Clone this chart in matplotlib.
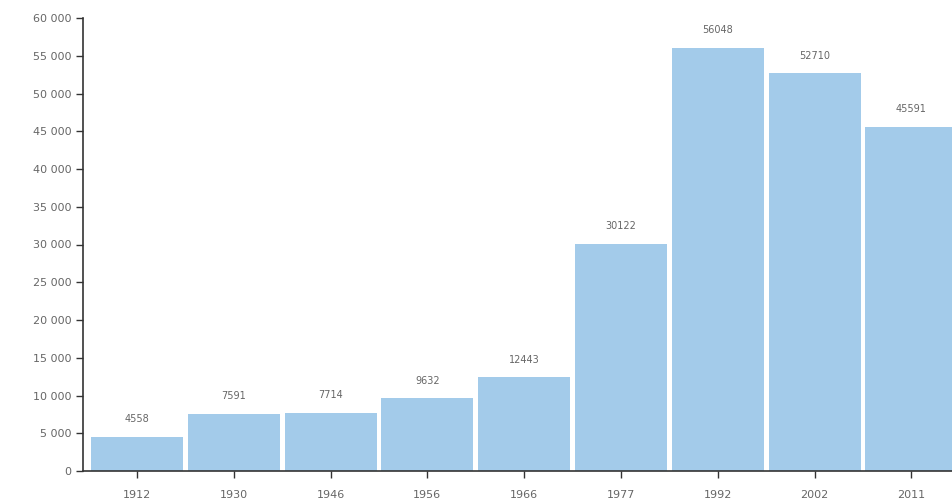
import numpy as np
import matplotlib.pyplot as plt
from matplotlib.ticker import FuncFormatter

# population by census year
years = ['1912', '1930', '1946', '1956', '1966', '1977', '1992', '2002', '2011']
population = [4558, 7591, 7714, 9632, 12443, 30122, 56048, 52710, 45591]

bar_color = '#a3cbea'
text_color = '#666666'

fig = plt.figure(figsize=(9.52, 4.99), dpi=100)
ax = fig.add_axes([83/952, 28/499, 1 - 83/952, 453/499])

x = np.arange(len(years))
bars = ax.bar(x, population, width=0.95, color=bar_color, zorder=2)

for xi, v in zip(x, population):
    ax.annotate(str(v), (xi, v), xytext=(0, 9), textcoords='offset points',
                ha='center', va='bottom', fontsize=7, color=text_color)

ax.set_xlim(-0.558, 8.42)
ax.set_ylim(0, 60000)
ax.set_yticks(np.arange(0, 60001, 5000))
ax.yaxis.set_major_formatter(FuncFormatter(lambda v, p: f'{int(v):,}'.replace(',', ' ')))
ax.set_xticks(x)
ax.set_xticklabels(years)

ax.tick_params(axis='both', colors='#333333', labelcolor=text_color, labelsize=8,
               length=5, width=1)
ax.tick_params(axis='x', pad=9)

for s in ['top', 'right']:
    ax.spines[s].set_visible(False)
for s in ['left', 'bottom']:
    ax.spines[s].set_color('#333333')
    ax.spines[s].set_linewidth(1.2)

fig.savefig('out.png', dpi=100)
